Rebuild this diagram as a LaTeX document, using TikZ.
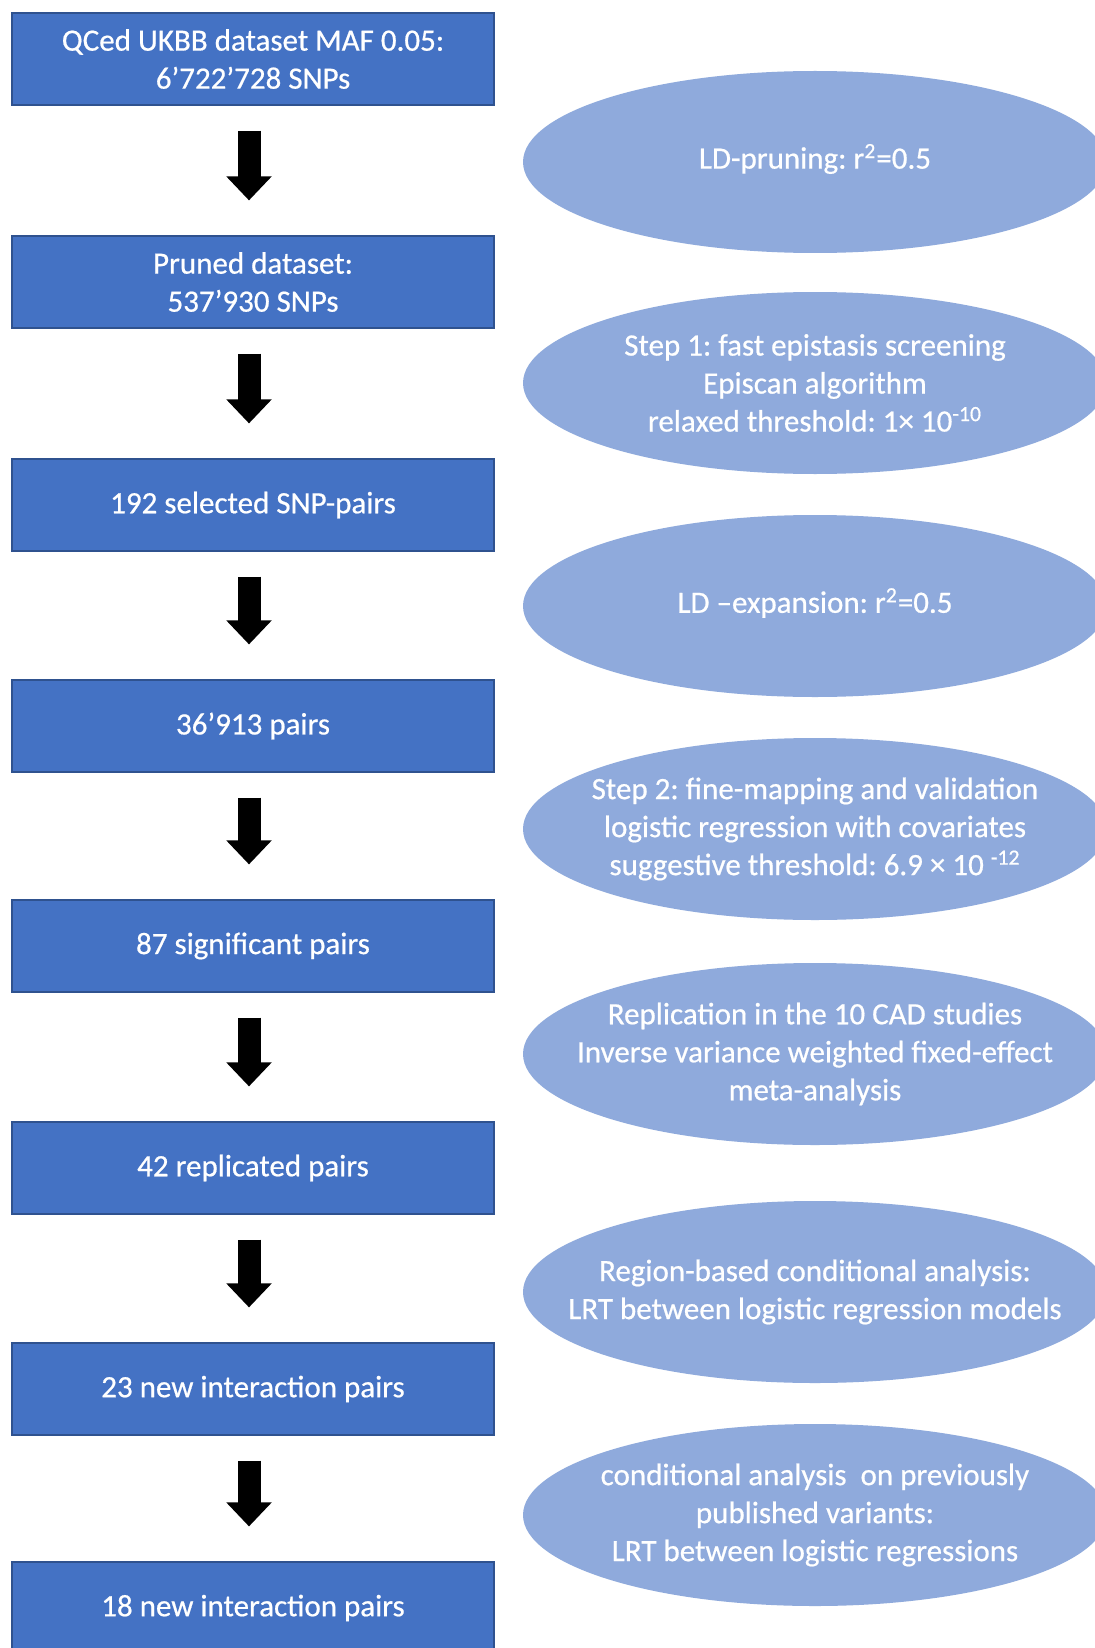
\documentclass[tikz,border=0pt]{standalone}
\usepackage{fontspec}
\setmainfont{Carlito}[FakeBold=0.6]
\usetikzlibrary{arrows.meta,shapes.geometric,calc}
\definecolor{boxblue}{HTML}{4472C4}
\definecolor{boxline}{HTML}{2F528F}
\definecolor{ellblue}{HTML}{8FAADC}
\tikzset{
  stepbox/.style={rectangle, fill=boxblue, draw=boxline, line width=0.6pt,
    minimum width=241pt, minimum height=46pt, inner sep=0pt, text=white,
    align=center, font=\fontsize{15.5}{19}\selectfont\frenchspacing},
  oval/.style={ellipse, fill=ellblue, minimum width=292pt, minimum height=91pt,
    inner sep=0pt},
  ovaltext/.style={text=white, align=center, inner sep=0pt,
    font=\fontsize{15.5}{19}\selectfont\frenchspacing},
  flow/.style={line width=11.5pt, -{Triangle[width=22pt,length=12pt]}}
}
\begin{document}
\begin{tikzpicture}[x=0.5pt,y=-0.5pt]
\useasboundingbox (0,0) rectangle (1095,1648);
\fill[white] (0,0) rectangle (1095,1648);
\clip (0,0) rectangle (1095,1648);

% left column boxes
\node[stepbox] (b1) at (253,59)   {QCed UKBB dataset MAF 0.05:\\6’722’728 SNPs};
\node[stepbox] (b2) at (253,282)  {Pruned dataset:\\537’930 SNPs};
\node[stepbox] (b3) at (253,505)  {192 selected SNP-pairs};
\node[stepbox] (b4) at (253,726)  {36’913 pairs};
\node[stepbox] (b5) at (253,946)  {87 significant pairs};
\node[stepbox] (b6) at (253,1168) {42 replicated pairs};
\node[stepbox] (b7) at (253,1389) {23 new interaction pairs};
\node[stepbox] (b8) at (253,1608) {18 new interaction pairs};

% arrows
\foreach \a/\b in {b1/b2,b2/b3,b3/b4,b4/b5,b5/b6,b6/b7,b7/b8}{
  \draw[flow] ($(\a.south)+(-4,25)$) -- ($(\b.north)+(-4,-35)$);
}

% right column ellipses
\node[oval] (e1) at (815,162)  {};
\node[oval] (e2) at (815,383)  {};
\node[oval] (e3) at (815,606)  {};
\node[oval] (e4) at (815,829)  {};
\node[oval] (e5) at (815,1054) {};
\node[oval] (e6) at (815,1292) {};
\node[oval] (e7) at (815,1515) {};

\node[ovaltext] (t1) at ($(e1)+(0,-3)$) {LD-pruning: r\textsuperscript{2}=0.5};
\node[ovaltext] (t2) at (e2) {Step 1: fast epistasis screening\\Episcan algorithm\\relaxed threshold: 1× 10\textsuperscript{-10}};
\node[ovaltext] (t3) at ($(e3)+(0,-3)$) {LD –expansion: r\textsuperscript{2}=0.5};
\node[ovaltext] (t4) at (e4) {Step 2: fine-mapping and validation\\logistic regression with covariates\\suggestive threshold: 6.9 × 10 \textsuperscript{-12}};
\node[ovaltext] (t5) at (e5) {Replication in the 10 CAD studies\\Inverse variance weighted fixed-effect\\meta-analysis};
\node[ovaltext] (t6) at (e6) {Region-based conditional analysis:\\LRT between logistic regression models};
\node[ovaltext] (t7) at (e7) {conditional analysis\ \ on previously\\published variants:\\LRT between logistic regressions};
\end{tikzpicture}
\end{document}
